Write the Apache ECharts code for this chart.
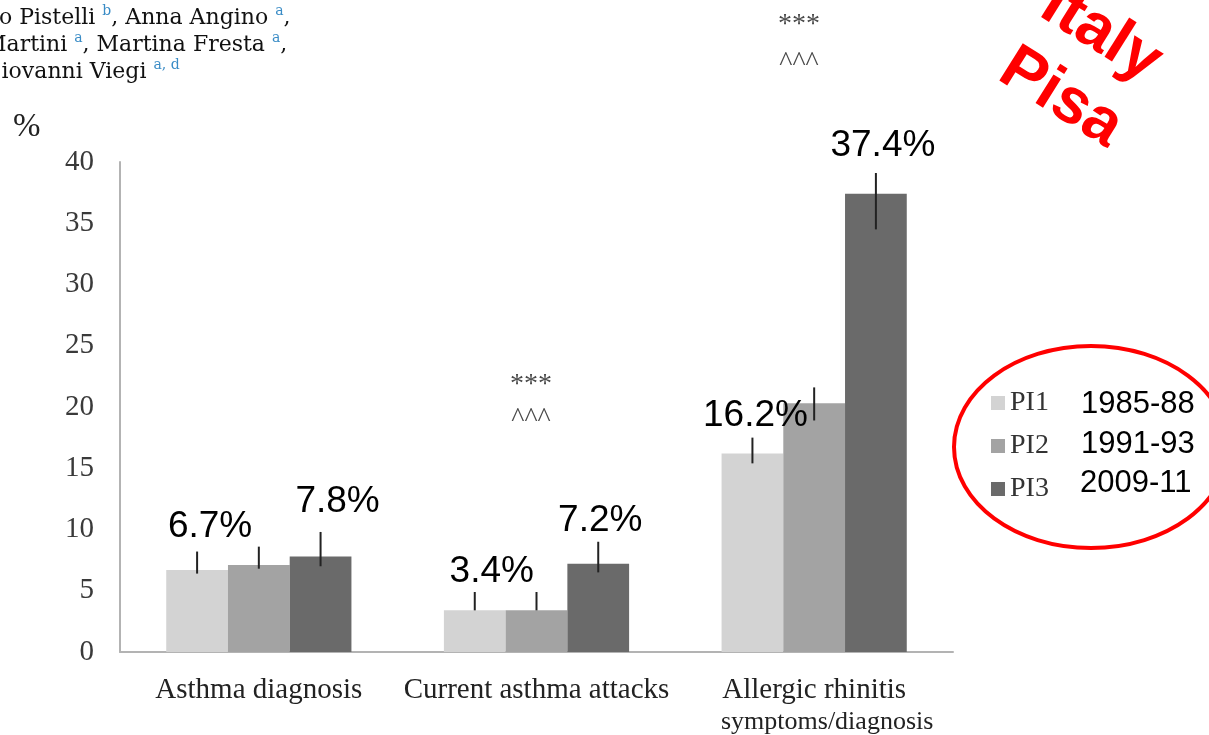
<!DOCTYPE html>
<html>
<head>
<meta charset="utf-8">
<script src="https://cdn.jsdelivr.net/npm/echarts@6/dist/echarts.min.js"></script>
<style>
  html, body { margin: 0; padding: 0; background: #fff; }
  #chart { width: 1209px; height: 735px; }
</style>
</head>
<body>
<div id="chart"></div>
<script>
// Prevalence (%) of respiratory outcomes in three Pisa surveys
const categories = ['Asthma diagnosis', 'Current asthma attacks', 'Allergic rhinitis\nsymptoms/diagnosis'];
const seriesNames = ['PI1', 'PI2', 'PI3'];
const surveyYears = ['1985-88', '1991-93', '2009-11'];
const yTicks = [0, 5, 10, 15, 20, 25, 30, 35, 40];

const pi1 = [6.7, 3.4, 16.2];
const pi2 = [7.1, 3.4, 20.3];
const pi3 = [7.8, 7.2, 37.4];

// confidence interval ends for each bar
const pi1Low = [6.4, 3.4, 15.4];
const pi1High = [8.2, 4.9, 17.5];
const pi2Low = [6.8, 3.4, 18.9];
const pi2High = [8.6, 4.9, 21.6];
const pi3Low = [7.0, 6.5, 34.5];
const pi3High = [9.8, 9.0, 39.1];

// which bars carry a printed percentage
const pi1Labelled = [true, true, true];
const pi3Labelled = [true, true, true];

// label nudges (px) relative to the top of each bar
const pi1LabelShift = [[13, -25], [17, -20], [3, -19]];
const pi3LabelShift = [[17, -36], [2, -25], [7, -30]];

const GAP = 0.333;
const barColors = ['#d3d3d3', '#a3a3a3', '#6a6a6a'];
const serif = '"Liberation Serif", "Times New Roman", serif';
const bookSerif = '"DejaVu Serif", Georgia, serif';
const sans = '"Liberation Sans", Arial, Helvetica, sans-serif';

const chart = echarts.init(document.getElementById('chart'), null, { renderer: 'canvas' });

function barData(values, labelled, shifts) {
  return values.map((v, i) => ({
    value: v,
    label: labelled && labelled[i] ? { show: true, offset: shifts[i] } : { show: false }
  }));
}

const valueLabel = {
  position: 'top',
  distance: 0,
  fontFamily: sans,
  fontSize: 37,
  color: '#000',
  formatter: p => p.value.toFixed(1) + '%'
};

const errData = [];
[[pi1Low, pi1High], [pi2Low, pi2High], [pi3Low, pi3High]].forEach((pair, s) => {
  pair[0].forEach((lo, i) => errData.push([i, lo, pair[1][i], s]));
});

function authorLine(text, left, top) {
  return {
    type: 'text', left: left, top: top,
    style: {
      text: text,
      font: '22px ' + bookSerif, fill: '#111', lineHeight: 28,
      rich: { s: { fontFamily: bookSerif, fontSize: 14, fill: '#3a8cc6', verticalAlign: 'top', lineHeight: 28 } }
    }
  };
}

function mark(text, x, y) {
  return {
    type: 'text', x: x, y: y,
    style: { text: text, font: '28px ' + serif, fill: '#4a4a4a', align: 'center', verticalAlign: 'middle' }
  };
}

// first line of each category name in the main size, a wrapped second line slightly smaller
function categoryLabel(name) {
  const parts = name.split('\n');
  return parts.map((p, i) => (i === 0 ? '{a|' + p + '}' : '{b|' + p + '}')).join('\n');
}

const option = {
  animation: false,
  backgroundColor: '#fff',
  grid: { left: 120, right: 256, top: 162, bottom: 82, containLabel: false },
  legend: {
    data: seriesNames,
    orient: 'vertical',
    left: 986,
    top: 384,
    icon: 'rect',
    itemWidth: 14,
    itemHeight: 14,
    itemGap: 15,
    textStyle: { fontFamily: serif, fontSize: 28, color: '#333' }
  },
  xAxis: {
    type: 'category',
    data: categories,
    axisLine: { show: true, lineStyle: { color: '#b3b3b3', width: 2 } },
    axisTick: { show: false },
    axisLabel: {
      interval: 0,
      margin: 22,
      color: '#222',
      formatter: categoryLabel,
      rich: {
        a: { fontFamily: serif, fontSize: 29, lineHeight: 32, color: '#222' },
        b: { fontFamily: serif, fontSize: 26, lineHeight: 32, color: '#222', padding: [0, 0, 0, 26] }
      }
    }
  },
  yAxis: {
    type: 'value',
    min: yTicks[0],
    max: yTicks[yTicks.length - 1],
    interval: yTicks[1] - yTicks[0],
    axisLine: { show: true, lineStyle: { color: '#b3b3b3', width: 2 } },
    axisTick: { show: false },
    splitLine: { show: false },
    axisLabel: { margin: 26, fontFamily: serif, fontSize: 29, color: '#3a3a3a' }
  },
  series: [
    {
      name: seriesNames[0], type: 'bar', barGap: '0%', barCategoryGap: (GAP * 100) + '%',
      itemStyle: { color: barColors[0] },
      label: valueLabel,
      data: barData(pi1, pi1Labelled, pi1LabelShift)
    },
    {
      name: seriesNames[1], type: 'bar', barGap: '0%', barCategoryGap: (GAP * 100) + '%',
      itemStyle: { color: barColors[1] },
      data: barData(pi2, null, null)
    },
    {
      name: seriesNames[2], type: 'bar', barGap: '0%', barCategoryGap: (GAP * 100) + '%',
      itemStyle: { color: barColors[2] },
      label: valueLabel,
      data: barData(pi3, pi3Labelled, pi3LabelShift)
    },
    {
      // vertical interval whiskers drawn at the centre of each bar
      name: 'ci', type: 'custom', z: 5,
      encode: { x: 0, y: [1, 2] },
      data: errData,
      renderItem: function (params, api) {
        const cat = api.value(0);
        const band = api.size([1, 0])[0];
        const bw = band * (1 - GAP) / 3;
        const x = api.coord([cat, 0])[0] + (api.value(3) - 1) * bw;
        const lo = api.coord([cat, api.value(1)])[1];
        const hi = api.coord([cat, api.value(2)])[1];
        return {
          type: 'line',
          shape: { x1: x, y1: lo, x2: x, y2: hi },
          style: { stroke: '#222', lineWidth: 2 }
        };
      }
    }
  ],
  graphic: [
    // author lines at the top-left
    authorLine('o Pistelli {s|b}, Anna Angino {s|a},', -1, 4),
    authorLine('Martini {s|a}, Martina Fresta {s|a},', -16, 31),
    authorLine('Giovanni Viegi {s|a, d}', -16, 58),
    // unit of the value axis
    {
      type: 'text', x: 13, y: 127,
      style: { text: '%', font: '33px ' + serif, fill: '#222', verticalAlign: 'middle' }
    },
    // significance marks
    mark('***', 531, 385),
    mark('^^^', 531, 419),
    mark('***', 799, 25),
    mark('^^^', 799, 63),
    // survey periods next to the legend
    {
      type: 'text', x: 1081, y: 404,
      style: { text: surveyYears[0], font: '31px ' + sans, fill: '#000', verticalAlign: 'middle' }
    },
    {
      type: 'text', x: 1081, y: 444,
      style: { text: surveyYears[1], font: '31px ' + sans, fill: '#000', verticalAlign: 'middle' }
    },
    {
      type: 'text', x: 1080, y: 483,
      style: { text: surveyYears[2], font: '31px ' + sans, fill: '#000', verticalAlign: 'middle' }
    },
    // red ellipse around the legend
    {
      type: 'ellipse', z: 10,
      shape: { cx: 1091, cy: 447, rx: 137, ry: 101 },
      style: { fill: 'none', stroke: '#ff0000', lineWidth: 4 }
    },
    // place stamp
    {
      type: 'text', x: 1081, y: 66, rotation: -0.56, z: 10,
      style: {
        text: 'Italy\nPisa',
        font: 'bold 64px ' + sans,
        fill: '#ff0000',
        align: 'center',
        verticalAlign: 'middle',
        lineHeight: 76
      }
    }
  ]
};

chart.setOption(option);
</script>
</body>
</html>
